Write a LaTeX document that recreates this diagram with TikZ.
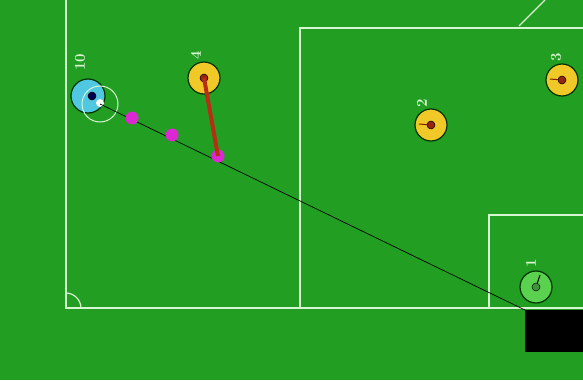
\documentclass[tikz,border=0pt]{standalone}
\definecolor{pitch}{RGB}{34,158,34}
\definecolor{chalk}{RGB}{215,245,210}
\definecolor{gold}{RGB}{240,200,40}
\definecolor{keeper}{RGB}{90,210,80}
\definecolor{striker}{RGB}{80,200,225}
\definecolor{rust}{RGB}{185,45,20}
\definecolor{dotpink}{RGB}{220,40,210}
\tikzset{
  player/.style={circle, draw=black!80!green, line width=1.2pt, fill=#1, minimum size=32pt, inner sep=0pt},
  core/.style={circle, fill=rust!80!black, draw=black, line width=0.5pt, minimum size=8pt, inner sep=0pt},
  num/.style={rotate=90, text=chalk, font=\fontsize{15}{15}\selectfont\bfseries, inner sep=0pt},
  pass/.style={circle, fill=dotpink, minimum size=13pt, inner sep=0pt}
}
\begin{document}
\begin{tikzpicture}[x=1pt,y=-1pt]
        \fill[pitch] (0,0) rectangle (583,380);
        \useasboundingbox (0,0) rectangle (583,380);
        \draw[chalk, line width=1.6pt] (66,0) -- (66,308) -- (583,308);
        \draw[chalk, line width=1.6pt] (300,308) -- (300,28) -- (583,28);
        \draw[chalk, line width=1.6pt] (489,308) -- (489,215) -- (583,215);
        \draw[chalk, line width=1.2pt] (66,293) .. controls (74,293) and (81,300) .. (81,308);
        \draw[chalk, line width=1.2pt] (519,26) .. controls (530,15) .. (545,0);
        \fill[black] (525,310) rectangle (583,352);
        \coordinate (post) at (525,310);
        \node[player=striker, minimum size=34pt] (p10) at (88,96) {};
        \node[circle, draw=chalk, line width=1pt, minimum size=36pt] (ring) at (100,104) {};
        \fill[white] (100,103) circle (4pt);
        \node[core, fill=black!70!blue] (c10) at (92,96) {};
        \node[num] (n10) at (80,62) {10};
        \node[player=gold] (p4) at (204,78) {};
        \node[core] (c4) at (204,78) {};
        \node[num] (n4) at (196,55) {4};
        \node[player=gold] (p2) at (431,125) {};
        \node[core] (c2) at (431,125) {};
        \draw[rust!70!black, line width=1pt] (c2) -- ++(-12,-1);
        \node[num] (n2) at (422,103) {2};
        \node[player=gold] (p3) at (562,80) {};
        \node[core] (c3) at (562,80) {};
        \draw[rust!70!black, line width=1pt] (c3) -- ++(-12,-1);
        \node[num] (n3) at (556,57) {3};
        \node[player=keeper] (p1) at (536,287) {};
        \node[core, fill=keeper!70!black] (c1) at (536,287) {};
        \draw[black, line width=1pt] (c1) -- ++(4,-12);
        \node[num] (n1) at (531,263) {1};
        \draw[black, line width=0.7pt] (ring.center) -- (post);
        \node[pass] (d1) at (132,118) {};
        \node[pass] (d2) at (172,135) {};
        \node[pass] (d3) at (218,156) {};
        \draw[rust, line width=4pt] (c4.center) -- (d3.center);
    \end{tikzpicture}
\end{document}
